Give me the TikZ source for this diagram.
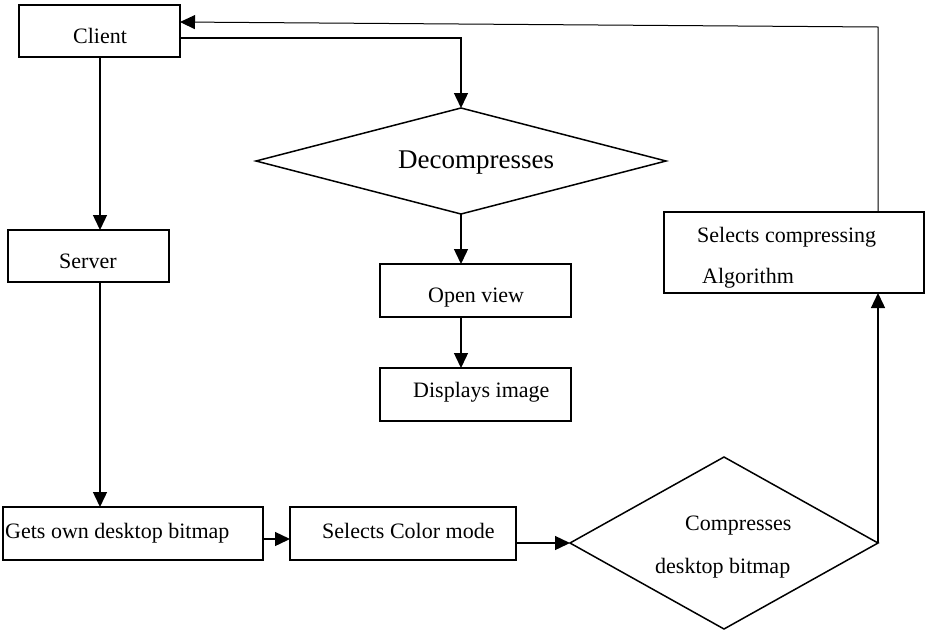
\documentclass[tikz,border=0pt]{standalone}
\usepackage{fontspec}
\setmainfont{Liberation Serif}
\usetikzlibrary{arrows.meta,shapes.geometric}
\begin{document}
\begin{tikzpicture}[x=1pt,y=-1pt,
  box/.style={draw,line width=1.6pt,inner sep=0pt,outer sep=0pt},
  dia/.style={draw,diamond,line width=1.5pt,inner sep=0pt,outer sep=0pt},
  lbl/.style={anchor=base west,inner sep=0pt,font=\fontsize{22}{26}\selectfont},
  biglbl/.style={anchor=base west,inner sep=0pt,font=\fontsize{27}{31}\selectfont},
  tip/.style={-{Triangle[length=15pt,width=14pt]}},
  arr/.style={line width=1.4pt,tip},
  thinarr/.style={line width=1pt,tip}]
\useasboundingbox (0,0) rectangle (926,630);
% boxes
\node[box,minimum width=161pt,minimum height=52pt] (client) at (99.5,31) {};
\node[box,minimum width=161pt,minimum height=52pt] (server) at (88.5,256) {};
\node[box,minimum width=191pt,minimum height=53pt] (open) at (475.5,290.5) {};
\node[box,minimum width=191pt,minimum height=53pt] (disp) at (475.5,394.5) {};
\node[box,minimum width=260pt,minimum height=81pt] (algo) at (794,252.5) {};
\node[box,minimum width=260pt,minimum height=53pt] (gets) at (133,533.5) {};
\node[box,minimum width=226pt,minimum height=53pt] (scm) at (403,533.5) {};
\node[dia,minimum width=410pt,minimum height=106pt] (dec) at (461,161) {};
\node[dia,minimum width=308pt,minimum height=172pt] (cd) at (724,543) {};
% labels
\node[lbl] (tclient) at (73,43) {Client};
\node[lbl] (tserver) at (59,268) {Server};
\node[biglbl] (tdec) at (398,168) {Decompresses};
\node[lbl] (topen) at (428,302) {Open view};
\node[lbl] (tdisp) at (413,397) {Displays image};
\node[lbl] (talgo1) at (697,242) {Selects compressing};
\node[lbl] (talgo2) at (702,283) {Algorithm};
\node[lbl] (tgets) at (5,538) {Gets own desktop bitmap};
\node[lbl] (tscm) at (322,538) {Selects Color mode};
\node[lbl] (tcd1) at (685,530) {Compresses};
\node[lbl] (tcd2) at (655,573) {desktop bitmap};
% helper coordinates
\coordinate (lx) at (100,0);
\coordinate (tr) at (878,27);
% connectors
\draw[arr] ([yshift=-7pt]client.east) -| (dec.north);
\draw[arr] (client.south -| lx) -- (server.north -| lx);
\draw[arr] (server.south -| lx) -- (gets.north -| lx);
\draw[arr] (dec.south) -- (open.north -| dec.south);
\draw[arr] (open.south -| dec.south) -- (disp.north -| dec.south);
\draw[arr] ([yshift=-5.5pt]gets.east) -- ([yshift=-5.5pt]scm.west);
\draw[arr] (scm.east |- cd.west) -- (cd.west);
\draw[arr] (cd.east) -- (algo.south -| cd.east);
\draw[thinarr] (algo.north -| cd.east) -- (tr) -- ([yshift=9pt]client.east);
\end{tikzpicture}
\end{document}
